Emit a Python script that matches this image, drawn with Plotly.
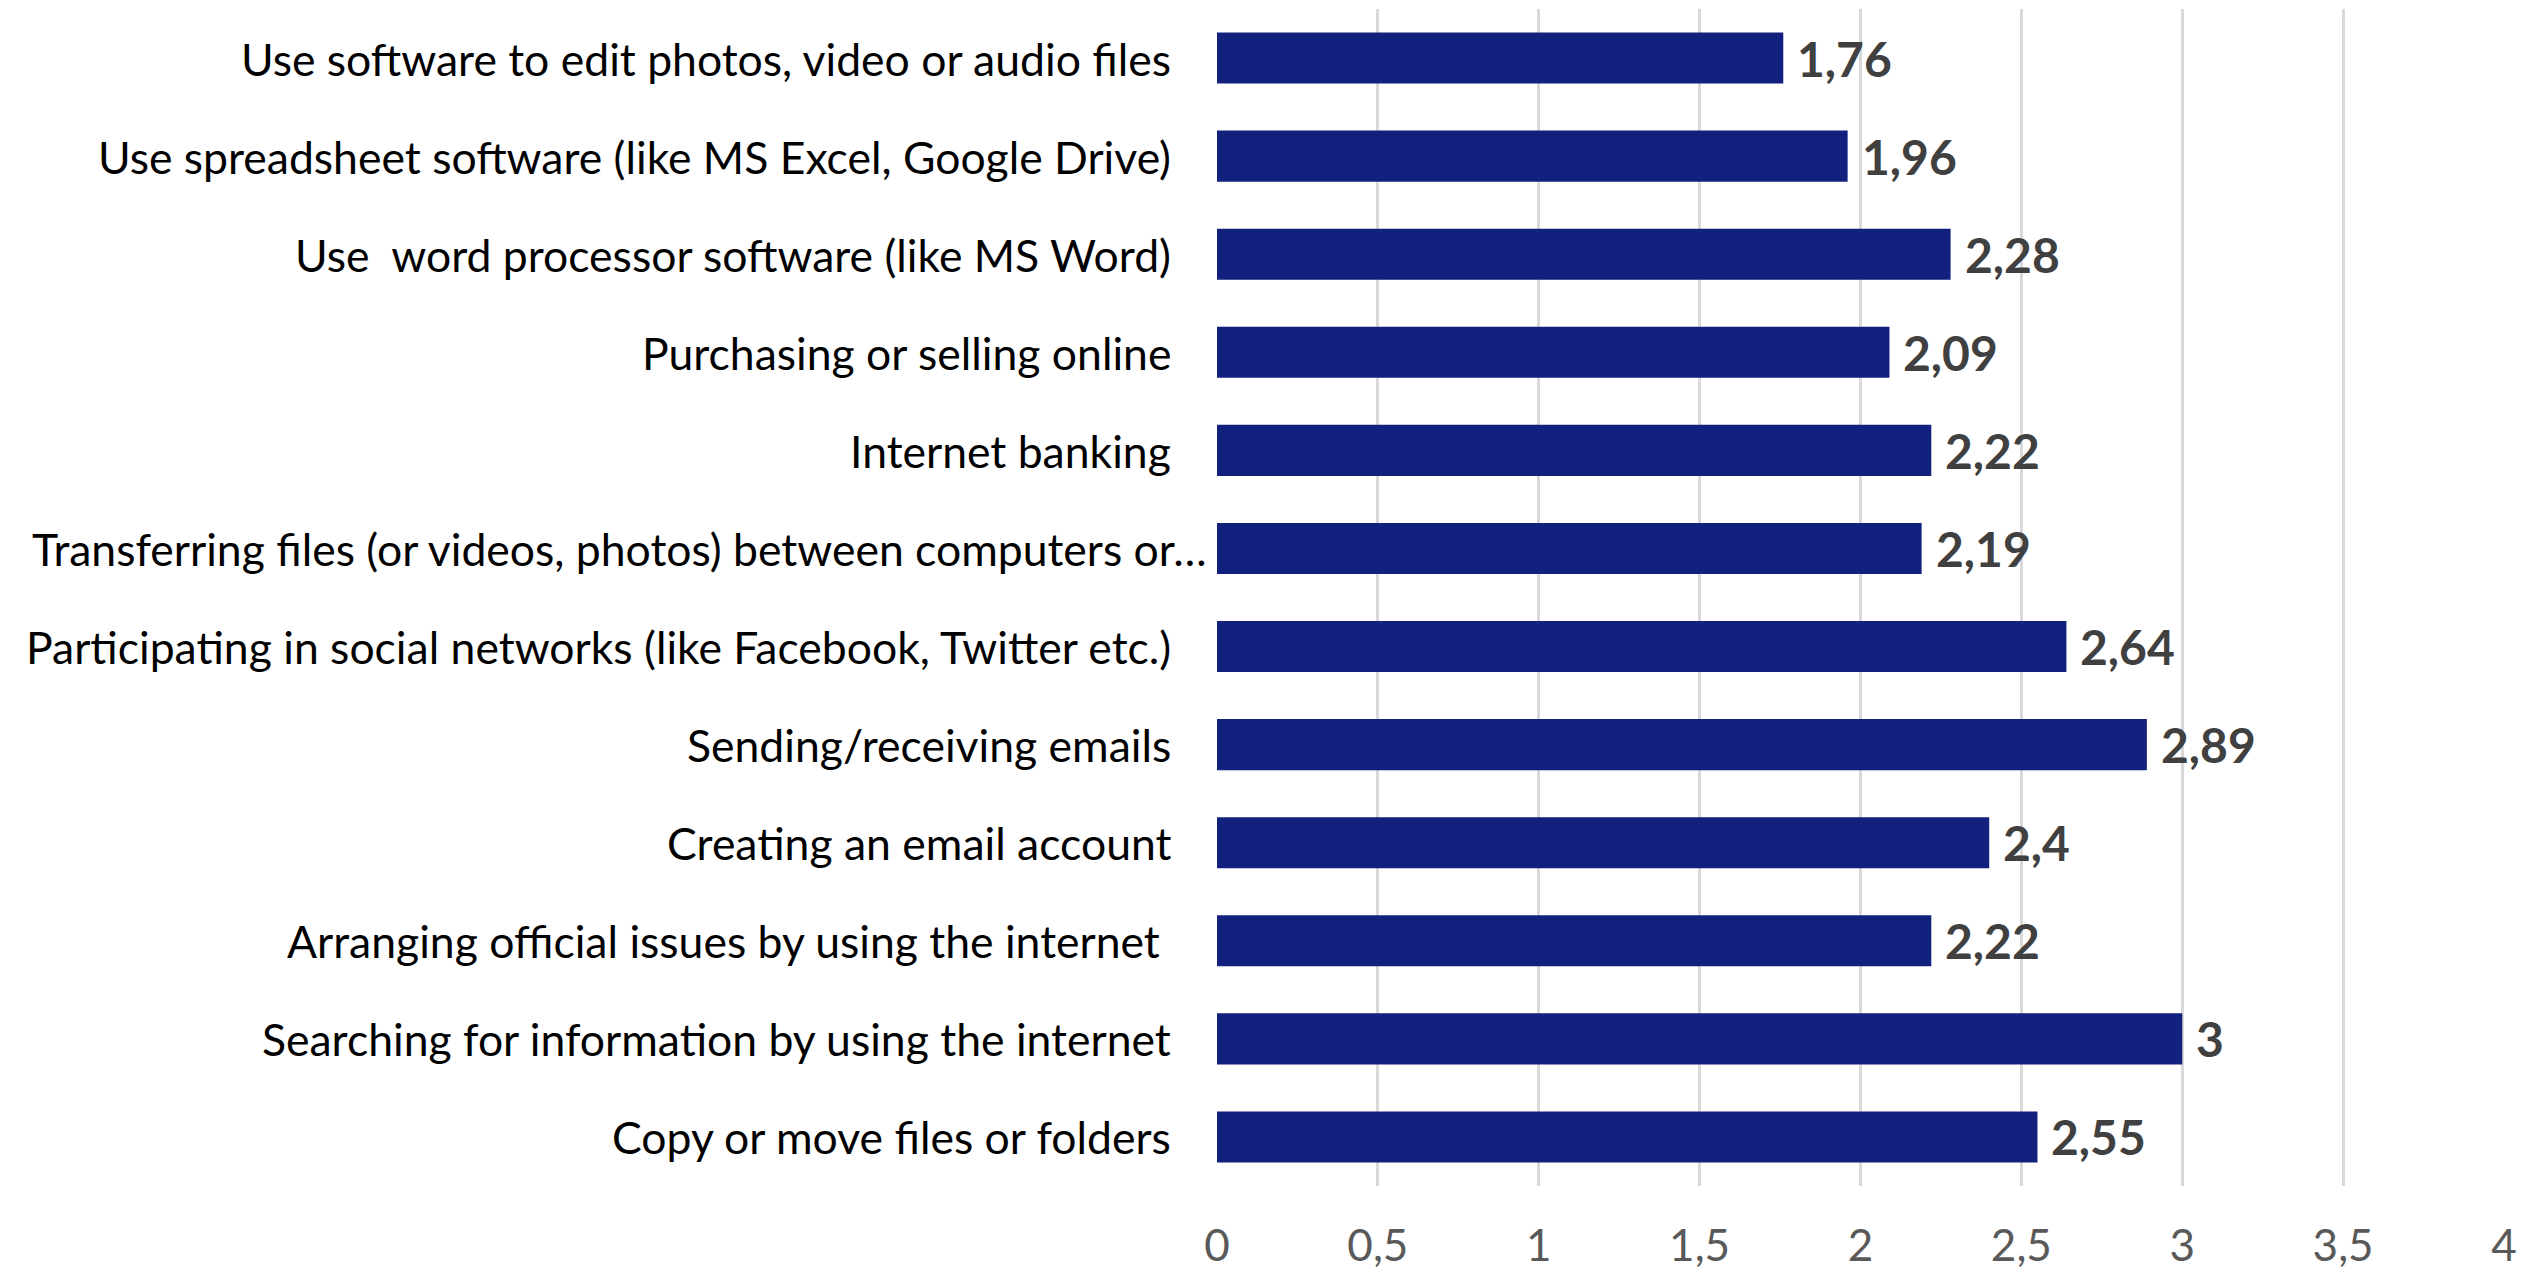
import plotly.graph_objects as go

# Activities, listed top to bottom, with their mean scores
activities = [
    "Use software to edit photos, video or audio files",
    "Use spreadsheet software (like MS Excel, Google Drive)",
    "Use\u00a0 word processor software (like MS Word)",
    "Purchasing or selling online",
    "Internet banking",
    "Transferring files (or videos, photos) between computers or…",
    "Participating in social networks (like Facebook, Twitter etc.)",
    "Sending/receiving emails",
    "Creating an email account",
    "Arranging official issues by using the internet\u00a0",
    "Searching for information by using the internet",
    "Copy or move files or folders",
]
scores = [1.76, 1.96, 2.28, 2.09, 2.22, 2.19, 2.64, 2.89, 2.4, 2.22, 3, 2.55]
x_ticks = [0, 0.5, 1, 1.5, 2, 2.5, 3, 3.5, 4]

FONT = "Lato"
BAR_COLOR = "#12207E"


def comma_decimal(v):
    return f"{v:g}".replace(".", ",")


fig = go.Figure(
    go.Bar(
        x=scores,
        y=activities,
        orientation="h",
        marker=dict(color=BAR_COLOR, line=dict(width=0)),
        hoverinfo="skip",
    )
)

# Category labels, right-aligned against the value axis; a truncated
# label (ending in an ellipsis) runs closer to the axis.
for name in activities:
    fig.add_annotation(
        x=0, y=name, text=name,
        xanchor="right", yanchor="middle",
        xshift=-8 if name.endswith("…") else -44,
        showarrow=False,
        font=dict(family=FONT, size=44.5, color="#000000"),
    )

# Value labels just past the end of each bar
for name, v in zip(activities, scores):
    fig.add_annotation(
        x=v, y=name, text=f"<b>{comma_decimal(v)}</b>",
        xanchor="left", yanchor="middle", xshift=12, showarrow=False,
        font=dict(family=FONT, size=48, color="#404040"),
    )

fig.update_layout(
    width=2526, height=1269,
    margin=dict(l=1217, r=22, t=9, b=83, autoexpand=False),
    paper_bgcolor="white", plot_bgcolor="white",
    bargap=0.48,
    separators=", ",
    showlegend=False,
    font=dict(family=FONT, color="#000000"),
)
fig.update_xaxes(
    range=[0, 4],
    tickvals=x_ticks,
    ticktext=[comma_decimal(t) for t in x_ticks],
    showgrid=True, gridcolor="#D9D9D9", gridwidth=2.5,
    zeroline=False, showline=False, ticks="",
    tickfont=dict(family=FONT, size=44, color="#595959"),
    ticklabelstandoff=30,
    automargin=False,
)
fig.update_yaxes(
    autorange="reversed",
    showgrid=False, zeroline=False, showline=False, ticks="",
    showticklabels=False,
    automargin=False,
)

fig.write_html("out.html")
